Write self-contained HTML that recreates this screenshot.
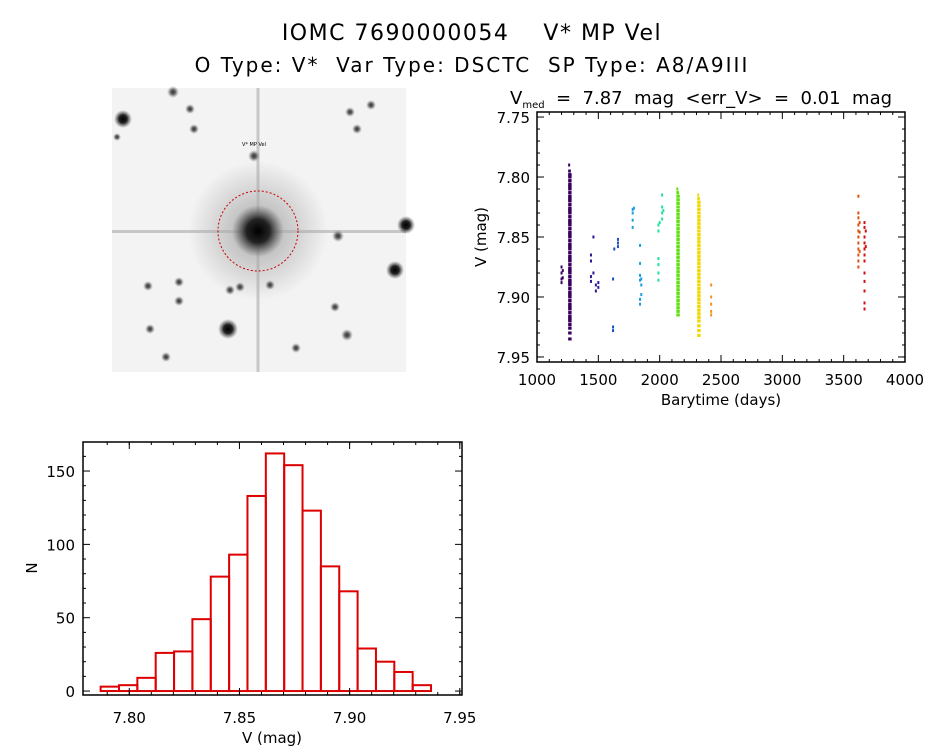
<!DOCTYPE html>
<html><head><meta charset="utf-8"><style>
body{margin:0;background:#fff;width:944px;height:747px;overflow:hidden;font-family:"DejaVu Sans","Liberation Sans",sans-serif}
svg{position:absolute;left:0;top:0}
text{fill:#000;white-space:pre}
</style></head><body>
<svg id="s" width="944" height="747">
<text x="472" y="40" font-size="22" letter-spacing="1.5" text-anchor="middle" xml:space="preserve">IOMC 7690000054    V* MP Vel</text>
<text x="472" y="72" font-size="20" letter-spacing="2" text-anchor="middle" xml:space="preserve">O Type: V*  Var Type: DSCTC  SP Type: A8/A9III</text>
<g>
<defs>
<radialGradient id="st"><stop offset="0" stop-color="#000"/><stop offset="0.45" stop-color="#222"/><stop offset="1" stop-color="#555" stop-opacity="0"/></radialGradient>
<radialGradient id="st2"><stop offset="0" stop-color="#333"/><stop offset="0.4" stop-color="#666"/><stop offset="1" stop-color="#999" stop-opacity="0"/></radialGradient>
<radialGradient id="bg"><stop offset="0" stop-color="#000" stop-opacity="0.3"/><stop offset="1" stop-color="#000" stop-opacity="0"/></radialGradient>
</defs>
<rect x="112" y="88" width="294" height="284" fill="#f3f3f3"/>
<circle cx="258" cy="231" r="70" fill="url(#bg)"/>
<rect x="112" y="230" width="294" height="3" fill="#aaa" opacity="0.6"/>
<rect x="256.5" y="88" width="3" height="284" fill="#aaa" opacity="0.6"/>
<circle cx="258" cy="231" r="26" fill="url(#st)"/>
<circle cx="123" cy="119" r="9" fill="url(#st)"/>
<circle cx="228" cy="329" r="10" fill="url(#st)"/>
<circle cx="395" cy="270" r="9" fill="url(#st)"/>
<circle cx="406" cy="225" r="9" fill="url(#st)"/>
<circle cx="347" cy="335" r="6" fill="url(#st2)"/>
<circle cx="254" cy="156" r="6" fill="url(#st2)"/>
<circle cx="173" cy="92" r="6" fill="url(#st2)"/>
<circle cx="338" cy="236" r="6" fill="url(#st2)"/>
<circle cx="150" cy="329" r="5" fill="url(#st2)"/>
<circle cx="296" cy="348" r="5" fill="url(#st2)"/>
<circle cx="230" cy="290" r="5" fill="url(#st2)"/>
<circle cx="240" cy="287" r="5" fill="url(#st2)"/>
<circle cx="270" cy="285" r="5" fill="url(#st2)"/>
<circle cx="179" cy="282" r="5" fill="url(#st2)"/>
<circle cx="350" cy="112" r="5" fill="url(#st2)"/>
<circle cx="371" cy="105" r="5" fill="url(#st2)"/>
<circle cx="357" cy="129" r="5" fill="url(#st2)"/>
<circle cx="190" cy="109" r="5" fill="url(#st2)"/>
<circle cx="194" cy="129" r="5" fill="url(#st2)"/>
<circle cx="335" cy="307" r="5" fill="url(#st2)"/>
<circle cx="179" cy="301" r="5" fill="url(#st2)"/>
<circle cx="148" cy="286" r="5" fill="url(#st2)"/>
<circle cx="166" cy="357" r="5" fill="url(#st2)"/>
<circle cx="117" cy="137" r="4" fill="url(#st2)"/>
<circle cx="258" cy="231" r="40" fill="none" stroke="#c00" stroke-width="1" stroke-dasharray="2,2"/>
<text x="254" y="146" font-size="5" fill="#c00" text-anchor="middle">V* MP Vel</text>
</g>
<g id="sc"></g>
<g id="hi"></g>
</svg>
<script>
// ---- light curve data ----
const denseA=[7.790,7.795,7.798,7.800,7.803,7.806,7.808,7.810,7.813,7.816,7.818,7.820,7.823,7.826,7.828,7.830,7.833,7.836,7.838,7.840,7.843,7.846,7.848,7.850,7.853,7.856,7.858,7.860,7.863,7.866,7.868,7.870,7.873,7.876,7.878,7.880,7.883,7.886,7.888,7.890,7.893,7.896,7.898,7.900,7.903,7.906,7.908,7.910,7.913,7.916,7.918,7.920,7.923,7.926,7.930,7.935];
const denseG=[7.810,7.813,7.816,7.819,7.822,7.825,7.828,7.831,7.834,7.837,7.840,7.843,7.846,7.849,7.852,7.855,7.858,7.861,7.864,7.867,7.870,7.873,7.876,7.879,7.882,7.885,7.888,7.891,7.894,7.897,7.900,7.903,7.906,7.909,7.912,7.915];
const denseY=[7.815,7.818,7.821,7.824,7.827,7.830,7.833,7.836,7.839,7.842,7.845,7.848,7.851,7.854,7.857,7.860,7.863,7.866,7.869,7.872,7.875,7.878,7.881,7.884,7.887,7.890,7.893,7.896,7.899,7.902,7.905,7.908,7.911,7.914,7.917,7.920,7.924,7.928,7.932];
const lcTimes=[1200,1210,1262,1268,1274,1440,1460,1480,1500,1620,1630,1660,1780,1790,1840,1850,1990,2000,2020,2030,2144,2150,2156,2314,2320,2326,2420,3620,3630,3670,3680];
const lcMags=[
[7.875,7.880,7.885,7.888],
[7.878,7.884],
denseA, denseA.slice(1), denseA.slice(2),
[7.865,7.870,7.883,7.887],
[7.850,7.880],
[7.890,7.895],
[7.892,7.888],
[7.885,7.925,7.928],
[7.860],
[7.852,7.855,7.858],
[7.827,7.830,7.836,7.842],
[7.826],
[7.857,7.872,7.882,7.886,7.902,7.906],
[7.885,7.890,7.898],
[7.840,7.845,7.868,7.873,7.880,7.886],
[7.838],
[7.815,7.825,7.830,7.835],
[7.828],
denseG, denseG.slice(1), denseG.slice(2),
denseY, denseY.slice(1), denseY.slice(2),
[7.890,7.900,7.906,7.912,7.915],
[7.816,7.830,7.834,7.840,7.845,7.850,7.855,7.860,7.865,7.870,7.875],
[7.838,7.846,7.862],
[7.838,7.842,7.850,7.855,7.860,7.865,7.870,7.880,7.887,7.895,7.905,7.910],
[7.845,7.858]
];
const lcXTicks=[1000,1500,2000,2500,3000,3500,4000];
const lcYTicks=[7.75,7.80,7.85,7.90,7.95];
// ---- histogram data ----
const hStart=7.787, hWidth=0.00833;
const hCounts=[3,4,9,26,27,49,78,93,133,162,154,123,85,68,29,20,13,4];
const hXTicks=[7.80,7.85,7.90,7.95];
const hYTicks=[0,50,100,150];

const NS='http://www.w3.org/2000/svg';
function mk(p,t,a){const e=document.createElementNS(NS,t);for(const k in a)e.setAttribute(k,a[k]);p.appendChild(e);return e;}
function txt(p,x,y,s,sz,anc){const e=mk(p,'text',{x:x,y:y,'font-size':sz,'text-anchor':anc||'middle'});e.textContent=s;return e;}

// light curve
const sc=document.getElementById('sc');
const L=537,R=905,T=112,B=362,x0=1000,x1=4000,y0=7.7458,y1=7.9542;
const sx=v=>L+(v-x0)/(x1-x0)*(R-L), sy=v=>T+(v-y0)/(y1-y0)*(B-T);
function colorFor(t){
  if(t<1350) return '#3a0060';
  if(t<1550) return '#2a1a9a';
  if(t<1700) return '#1a50c0';
  if(t<1900) return '#1aa0e0';
  if(t<2080) return '#20e0a0';
  if(t<2250) return '#60e010';
  if(t<2380) return '#f0d800';
  if(t<3000) return '#f09020';
  if(t<3650) return '#e05010';
  return '#d01010';
}
lcTimes.forEach((t,i)=>{
  lcMags[i].forEach(m=>{
    const r=mk(sc,'rect',{x:sx(t)-1,y:sy(m)-1.5,width:2,height:3,fill:colorFor(t)});
    
    
  });
});
mk(sc,'rect',{x:L,y:T,width:R-L,height:B-T,fill:'none',stroke:'#000','stroke-width':1.5});
lcXTicks.forEach(v=>{const x=sx(v);mk(sc,'line',{x1:x,x2:x,y1:B,y2:B-7,stroke:'#000'});mk(sc,'line',{x1:x,x2:x,y1:T,y2:T+7,stroke:'#000'});
 const t=txt(sc,x,385,String(v),15);});
for(let v=1100;v<4000;v+=100){if(v%500){const x=sx(v);mk(sc,'line',{x1:x,x2:x,y1:B,y2:B-3,stroke:'#000'});mk(sc,'line',{x1:x,x2:x,y1:T,y2:T+3,stroke:'#000'});}}
lcYTicks.forEach(v=>{const y=sy(v);mk(sc,'line',{x1:L,x2:L+7,y1:y,y2:y,stroke:'#000'});mk(sc,'line',{x1:R,x2:R-7,y1:y,y2:y,stroke:'#000'});
 const t=txt(sc,530,y+6,v.toFixed(2),15,'end');});
for(let v=7.76;v<7.95;v+=0.01){const y=sy(v);mk(sc,'line',{x1:L,x2:L+3,y1:y,y2:y,stroke:'#000'});mk(sc,'line',{x1:R,x2:R-3,y1:y,y2:y,stroke:'#000'});}
let t=txt(sc,721,405,'Barytime (days)',15);
t=mk(sc,'text',{x:0,y:0,'font-size':15,'text-anchor':'middle',transform:'translate(486,237) rotate(-90)'});t.textContent='V (mag)';

t=mk(sc,'text',{x:510,y:104,'font-size':18,'xml:space':'preserve'});t.innerHTML='V<tspan font-size="10" dy="4">med</tspan><tspan dy="-4">  =  7.87  mag  &lt;err_V&gt;  =  0.01  mag</tspan>';


// histogram
const hi=document.getElementById('hi');
const HL=83,HR=462,HT=442,HB=695,hx0=7.779,hx1=7.951,hy0=-2.7,hy1=169.8;
const hx=v=>HL+(v-hx0)/(hx1-hx0)*(HR-HL), hy=v=>HB-(v-hy0)/(hy1-hy0)*(HB-HT);
hCounts.forEach((c,i)=>{
  const a=hx(hStart+i*hWidth), b=hx(hStart+(i+1)*hWidth);
  const r=mk(hi,'rect',{x:a,y:hy(c),width:b-a,height:hy(0)-hy(c),fill:'none',stroke:'#d00','stroke-width':2});
  
  
});
mk(hi,'rect',{x:HL,y:HT,width:HR-HL,height:HB-HT,fill:'none',stroke:'#000','stroke-width':1.5});
hXTicks.forEach(v=>{const x=hx(v);mk(hi,'line',{x1:x,x2:x,y1:HB,y2:HB-7,stroke:'#000'});mk(hi,'line',{x1:x,x2:x,y1:HT,y2:HT+7,stroke:'#000'});
 const t=txt(hi,x,723,v.toFixed(2),15);});
for(let v=7.79;v<7.951;v+=0.01){const x=hx(v);mk(hi,'line',{x1:x,x2:x,y1:HB,y2:HB-3,stroke:'#000'});mk(hi,'line',{x1:x,x2:x,y1:HT,y2:HT+3,stroke:'#000'});}
hYTicks.forEach(v=>{const y=hy(v);mk(hi,'line',{x1:HL,x2:HL+7,y1:y,y2:y,stroke:'#000'});mk(hi,'line',{x1:HR,x2:HR-7,y1:y,y2:y,stroke:'#000'});
 const t=txt(hi,75,y+6,String(v),15,'end');});
for(let v=10;v<170;v+=10){if(v%50){const y=hy(v);mk(hi,'line',{x1:HL,x2:HL+3,y1:y,y2:y,stroke:'#000'});mk(hi,'line',{x1:HR,x2:HR-3,y1:y,y2:y,stroke:'#000'});}}
t=txt(hi,272,743,'V (mag)',15);
t=mk(hi,'text',{x:0,y:0,'font-size':15,'text-anchor':'middle',transform:'translate(37,568) rotate(-90)'});t.textContent='N';

</script>
</body></html>
